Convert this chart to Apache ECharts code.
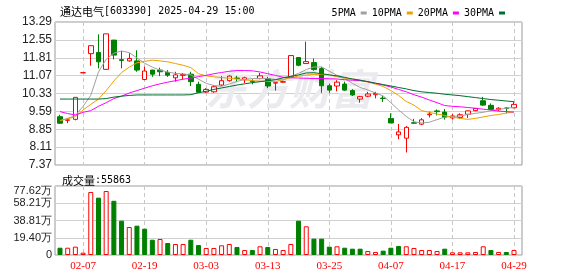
<!DOCTYPE html>
<html>
<head>
<meta charset="utf-8">
<script src="https://cdn.jsdelivr.net/npm/echarts/dist/echarts.min.js"></script>
<style>
  html, body {margin: 0; padding: 0; background: #fff;}
  #kline {width: 578px; height: 276px;}
</style>
</head>
<body>
<div id="kline"></div>
<script>
// 交易日
var dates = ['01-27', '02-05', '02-06', '02-07', '02-10', '02-11', '02-12', '02-13', '02-14', '02-17',
  '02-18', '02-19', '02-20', '02-21', '02-24', '02-25', '02-26', '02-27', '02-28', '03-03',
  '03-04', '03-05', '03-06', '03-07', '03-10', '03-11', '03-12', '03-13', '03-14', '03-17',
  '03-18', '03-19', '03-20', '03-21', '03-24', '03-25', '03-26', '03-27', '03-28', '03-31',
  '04-01', '04-02', '04-03', '04-07', '04-08', '04-09', '04-10', '04-11', '04-14', '04-15',
  '04-16', '04-17', '04-18', '04-21', '04-22', '04-23', '04-24', '04-25', '04-28', '04-29'];

var openArr = [9.37, 9.22, 9.26, 11.19, 11.98, 12.03, 11.33, 12.54, 11.73, 11.68,
  11.68, 10.91, 11.30, 11.30, 11.20, 10.98, 11.08, 11.13, 10.71, 10.39,
  10.40, 10.68, 10.86, 10.97, 10.90, 10.84, 10.95, 10.95, 10.76, 10.80,
  11.02, 11.82, 11.57, 11.61, 11.36, 10.65, 10.64, 10.72, 10.45, 10.10,
  10.22, 10.28, 10.14, 9.30, 8.62, 8.48, 9.12, 9.06, 9.45, 9.61,
  9.56, 9.32, 9.34, 9.47, 9.62, 10.03, 9.84, 9.66, 9.73, 9.74];
var closeArr = [9.10, 9.24, 10.17, 11.19, 12.31, 11.64, 12.80, 11.92, 11.70, 11.78,
  11.30, 11.26, 11.13, 11.23, 11.09, 11.10, 11.12, 10.82, 10.38, 10.50,
  10.61, 10.86, 11.05, 10.95, 10.98, 10.82, 11.06, 10.64, 10.78, 10.82,
  11.90, 11.50, 11.65, 11.32, 10.65, 10.47, 10.80, 10.47, 10.27, 10.20,
  10.31, 10.33, 10.12, 9.11, 8.74, 8.93, 9.10, 9.24, 9.48, 9.58,
  9.35, 9.40, 9.45, 9.61, 9.71, 9.85, 9.67, 9.72, 9.71, 9.88];
var lowArr = [9.07, 9.10, 9.22, 11.19, 11.48, 11.37, 11.33, 11.74, 11.37, 11.65,
  11.23, 10.88, 11.02, 11.05, 11.02, 10.82, 10.90, 10.64, 10.38, 10.36,
  10.36, 10.64, 10.82, 10.80, 10.76, 10.71, 10.92, 10.55, 10.45, 10.78,
  10.98, 11.46, 11.56, 11.27, 10.36, 10.36, 10.42, 10.44, 10.23, 9.95,
  10.18, 10.13, 9.98, 9.11, 8.44, 7.89, 9.10, 9.02, 9.34, 9.42,
  9.25, 9.25, 9.28, 9.32, 9.60, 9.82, 9.62, 9.61, 9.51, 9.72];
var highArr = [9.45, 9.31, 10.17, 11.19, 12.31, 12.78, 12.80, 12.55, 12.09, 12.00,
  12.12, 11.44, 11.31, 11.40, 11.30, 11.23, 11.18, 11.23, 10.82, 10.55,
  10.68, 11.05, 11.09, 11.06, 11.02, 10.92, 11.18, 11.02, 10.79, 10.86,
  11.90, 11.84, 12.48, 11.78, 11.43, 10.74, 10.88, 10.82, 10.51, 10.23,
  10.40, 10.40, 10.23, 9.51, 9.07, 8.98, 9.28, 9.31, 9.58, 9.67,
  9.69, 9.48, 9.51, 9.63, 9.73, 10.19, 9.92, 9.76, 9.76, 9.98];

// 均线
var ma5 = [9.21, 9.30, 9.42, 9.80, 10.25, 11.22, 11.75, 12.00, 12.09, 12.02,
  11.80, 11.58, 11.42, 11.30, 11.22, 11.16, 11.14, 11.10, 10.92, 10.75,
  10.66, 10.63, 10.72, 10.83, 10.91, 10.95, 10.95, 10.95, 10.91, 10.89,
  11.05, 11.16, 11.32, 11.43, 11.43, 11.25, 11.08, 10.95, 10.75, 10.58,
  10.48, 10.35, 10.23, 9.95, 9.65, 9.38, 9.16, 9.11, 9.14, 9.25,
  9.35, 9.38, 9.40, 9.46, 9.51, 9.55, 9.62, 9.67, 9.72, 9.76];
var ma10 = [9.21, 9.28, 9.37, 9.65, 9.88, 10.10, 10.45, 10.85, 11.20, 11.42,
  11.60, 11.66, 11.71, 11.68, 11.64, 11.57, 11.50, 11.40, 11.15, 11.06,
  11.02, 10.99, 10.96, 10.93, 10.90, 10.86, 10.84, 10.83, 10.82, 10.90,
  10.99, 11.05, 11.09, 11.12, 11.13, 11.10, 11.02, 10.97, 10.93, 10.88,
  10.80, 10.72, 10.62, 10.45, 10.25, 10.00, 9.85, 9.62, 9.55, 9.48,
  9.42, 9.35, 9.30, 9.26, 9.30, 9.36, 9.42, 9.46, 9.52, 9.57];
var ma20 = [9.58, 9.50, 9.44, 9.55, 9.62, 9.80, 9.95, 10.12, 10.22, 10.35,
  10.45, 10.55, 10.65, 10.73, 10.80, 10.86, 10.92, 10.97, 11.03, 11.08,
  11.15, 11.20, 11.25, 11.28, 11.28, 11.27, 11.22, 11.15, 11.08, 11.00,
  10.98, 10.97, 10.96, 10.95, 10.95, 10.94, 10.93, 10.90, 10.88, 10.86,
  10.82, 10.75, 10.68, 10.60, 10.50, 10.40, 10.28, 10.18, 10.06, 9.95,
  9.83, 9.80, 9.78, 9.75, 9.72, 9.68, 9.65, 9.60, 9.58, 9.56];
var ma30 = [10.10, 10.10, 10.10, 10.10, 10.10, 10.10, 10.12, 10.18, 10.22, 10.25,
  10.27, 10.27, 10.27, 10.27, 10.27, 10.27, 10.27, 10.28, 10.36, 10.42,
  10.50, 10.56, 10.62, 10.68, 10.73, 10.78, 10.82, 10.86, 10.90, 10.98,
  11.04, 11.10, 11.18, 11.19, 11.15, 11.10, 11.06, 11.00, 10.93, 10.88,
  10.82, 10.76, 10.70, 10.64, 10.58, 10.52, 10.45, 10.40, 10.37, 10.34,
  10.30, 10.27, 10.24, 10.20, 10.16, 10.12, 10.08, 10.05, 10.02, 9.99];

// 成交量(万手),以及涨跌(1 = 红)
var volume = [8.2, 8.2, 9.4, 2.6, 70.9, 64.5, 72.0, 61.0, 38.6, 31.5,
  33.0, 29.6, 17.2, 18.0, 13.5, 12.4, 12.4, 17.2, 11.2, 7.9,
  7.9, 10.9, 12.4, 9.0, 5.6, 5.6, 9.8, 9.0, 6.8, 5.6,
  12.4, 38.6, 32.3, 18.4, 18.4, 9.4, 9.8, 8.2, 7.1, 7.1,
  4.5, 3.4, 4.9, 8.2, 10.1, 9.8, 7.9, 5.6, 5.6, 4.5,
  7.1, 3.0, 3.0, 3.0, 3.4, 9.8, 5.6, 3.4, 3.4, 5.59];
var volUp = [0, 1, 1, 1, 1, 0, 1, 0, 0, 1, 0, 0, 0, 1, 0, 1, 1, 0, 0, 1,
  1, 1, 1, 0, 1, 0, 1, 0, 1, 1, 1, 0, 1, 0, 0, 0, 1, 0, 0, 0,
  1, 1, 0, 0, 0, 1, 1, 1, 1, 1, 0, 1, 1, 1, 1, 1, 0, 1, 0, 1];

// 刻度
var priceTicks = ['7.37', '8.11', '8.85', '9.59', '10.33', '11.07', '11.81', '12.55', '13.29'];
var volTicks = ['0', '19.40万', '38.81万', '58.21万', '77.62万'];

var RED = '#ff0000';
var GREEN = '#008000';
var MONO = '"DejaVu Sans Mono", monospace';
var SANS = '"Liberation Sans", Arial, sans-serif';
var SERIF = '"Liberation Serif", serif';
var CJK = '"Noto Sans CJK SC", sans-serif';

var kData = dates.map(function (d, i) {
  return [openArr[i], closeArr[i], lowArr[i], highArr[i]];
});
var volData = volume.map(function (v, i) {
  return {
    value: v,
    itemStyle: volUp[i] ? {color: '#fff', borderColor: RED, borderWidth: 1} : {color: GREEN, borderColor: GREEN, borderWidth: 1}
  };
});

function dateTick(index) {      //每8个交易日一个刻度, 从02-07开始
  return (index - 3) % 8 === 0;
}

function maLine(name, data, color) {
  return {
    name: name,
    type: 'line',
    xAxisIndex: 1,
    yAxisIndex: 1,
    data: data,
    symbol: 'none',
    smooth: false,
    lineStyle: {color: color, width: 1},
    itemStyle: {color: color},
    z: 3
  };
}

var dashLine = {show: true, interval: dateTick, lineStyle: {color: '#c8c8c8', type: [4, 3], width: 1}};

var titleRich = {
  a: {fontFamily: CJK, fontSize: 11, fontWeight: 'normal', color: '#000'},
  b: {fontFamily: MONO, fontSize: 10, fontWeight: 'normal', color: '#000'}
};

var option = {
  animation: false,
  backgroundColor: '#fff',
  title: [{
    left: 55,
    top: 1,
    text: '{a|通达电气}{b|[603390] 2025-04-29 15:00}',
    textStyle: {fontWeight: 'normal', rich: titleRich}
  }, {
    left: 57,
    top: 170,
    text: '{a|成交量}{b|:55863}',
    textStyle: {fontWeight: 'normal', rich: titleRich}
  }],
  legend: {
    top: 3,
    right: 68,
    align: 'right',
    icon: 'rect',
    itemWidth: 6,
    itemHeight: 3,
    itemGap: 5,
    selectedMode: false,
    textStyle: {fontFamily: MONO, fontSize: 10, color: '#000'},
    data: ['5PMA', '10PMA', '20PMA', '30PMA']
  },
  graphic: [{
    type: 'text',
    left: 205,
    top: 68,
    z: 1,
    style: {
      text: '东方财富',
      font: 'italic bold 42px "Noto Sans CJK SC"',
      fill: '#ebebef'
    }
  }],
  grid: [
    {left: 55, top: 22, width: 467, height: 143, show: true, borderColor: '#999', borderWidth: 1},
    {left: 60, top: 22, width: 454, height: 143},
    {left: 55, top: 186, width: 467, height: 69, show: true, borderColor: '#999', borderWidth: 1},
    {left: 60, top: 186, width: 454, height: 69}
  ],
  xAxis: [
    {gridIndex: 0, type: 'value', min: 0, max: 1, show: false},
    {
      gridIndex: 1, type: 'category', data: dates, boundaryGap: false,
      axisLine: {show: false}, axisTick: {show: false}, axisLabel: {show: false},
      splitLine: dashLine
    },
    {gridIndex: 2, type: 'value', min: 0, max: 1, show: false},
    {
      gridIndex: 3, type: 'category', data: dates, boundaryGap: false,
      axisLine: {show: false}, axisTick: {show: false},
      axisLabel: {show: true, interval: dateTick, color: RED, fontFamily: SERIF, fontSize: 11, margin: 6},
      splitLine: dashLine
    }
  ],
  yAxis: [
    {
      gridIndex: 0, type: 'value', min: 0, max: 8, interval: 1,
      axisLine: {show: false}, axisTick: {show: false},
      axisLabel: {
        color: '#222', fontFamily: SANS, fontSize: 12, margin: 3,
        formatter: function (v) { return priceTicks[v]; }
      },
      splitLine: {show: true, lineStyle: {color: '#d0d0d0', width: 1}}
    },
    {gridIndex: 1, type: 'value', min: 7.37, max: 13.29, show: false, splitLine: {show: false}},
    {
      gridIndex: 2, type: 'value', min: 0, max: 4, interval: 1,
      axisLine: {show: false}, axisTick: {show: false},
      axisLabel: {
        color: '#222', fontFamily: SANS, fontSize: 11, margin: 3,
        formatter: function (v) { return v === 4 ? '{t|' + volTicks[v] + '}' : volTicks[v]; },
        rich: {t: {padding: [9, 0, 0, 0], color: '#222', fontFamily: SANS, fontSize: 11}}
      },
      splitLine: {show: true, lineStyle: {color: '#d0d0d0', width: 1}}
    },
    {gridIndex: 3, type: 'value', min: 0, max: 77.62, show: false, splitLine: {show: false}}
  ],
  series: [
    {
      name: 'K',
      type: 'candlestick',
      xAxisIndex: 1,
      yAxisIndex: 1,
      data: kData,
      barWidth: 5,
      itemStyle: {
        color: '#fff',
        color0: GREEN,
        borderColor: RED,
        borderColor0: GREEN,
        borderWidth: 1
      },
      z: 2
    },
    maLine('5PMA', ma5, '#a0a0a0'),
    maLine('10PMA', ma10, '#f0a000'),
    maLine('20PMA', ma20, '#ff00ff'),
    maLine('30PMA', ma30, '#006e2e'),
    {
      name: 'VOL',
      type: 'bar',
      xAxisIndex: 3,
      yAxisIndex: 3,
      data: volData,
      barWidth: 5
    }
  ]
};

var myChart = echarts.init(document.getElementById('kline'));
myChart.setOption(option);
</script>
</body>
</html>
